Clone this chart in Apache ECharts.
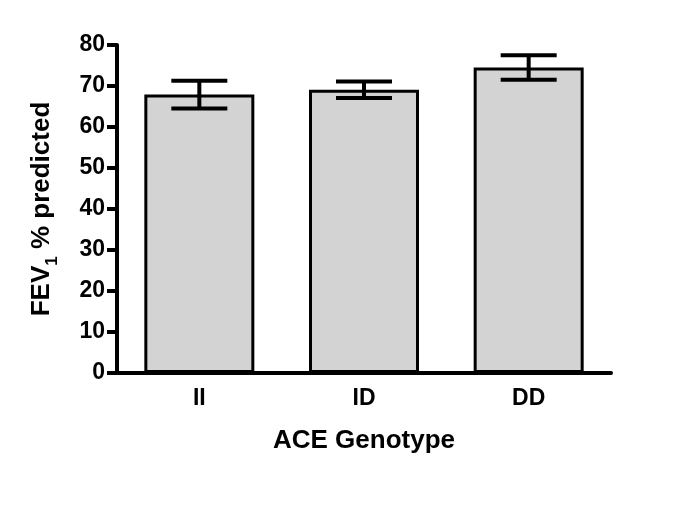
<!DOCTYPE html>
<html><head><meta charset="utf-8">
<script src="https://cdn.jsdelivr.net/npm/echarts@6/dist/echarts.min.js"></script>
<style>html,body{margin:0;padding:0;background:#fff}#c{width:685px;height:513px}</style>
</head><body><div id="c"></div>
<script>
var categories = ['II', 'ID', 'DD'];
var means = [67.9, 69.1, 74.5];
var sems = [3.4, 2.0, 3.0];
var yTicks = [0, 10, 20, 30, 40, 50, 60, 70, 80];

var chart = echarts.init(document.getElementById('c'));
var font = '"Liberation Sans", Arial, sans-serif';
var errData = categories.map(function (c, i) { return [i, means[i] - sems[i], means[i] + sems[i]]; });

chart.setOption({
  animation: false,
  backgroundColor: '#fff',
  grid: { left: 117, right: 74, top: 45, bottom: 140, containLabel: false },
  xAxis: {
    type: 'category', data: categories, boundaryGap: true,
    axisLine: { lineStyle: { color: '#000', width: 4 } },
    axisTick: { alignWithLabel: true, length: 9, lineStyle: { color: '#000', width: 4 } },
    axisLabel: { color: '#000', fontFamily: font, fontWeight: 'bold', fontSize: 23, margin: 14 },
    name: 'ACE Genotype', nameLocation: 'middle', nameGap: 55,
    nameTextStyle: { color: '#000', fontFamily: font, fontWeight: 'bold', fontSize: 26 }
  },
  yAxis: {
    type: 'value', min: 0, max: 80, interval: 10,
    splitLine: { show: false },
    axisLine: { show: true, lineStyle: { color: '#000', width: 4 } },
    axisTick: { show: true, length: 10, lineStyle: { color: '#000', width: 4 } },
    axisLabel: { color: '#000', fontFamily: font, fontWeight: 'bold', fontSize: 23, margin: 12,
      formatter: function (v) { return yTicks.indexOf(v) >= 0 ? String(v) : ''; } },
    name: '{a|FEV}{s|1}{a| % predicted}', nameLocation: 'middle', nameGap: 60, nameRotate: 90,
    nameTextStyle: {
      rich: {
        a: { color: '#000', fontFamily: font, fontWeight: 'bold', fontSize: 26, lineHeight: 30 },
        s: { color: '#000', fontFamily: font, fontWeight: 'bold', fontSize: 17, lineHeight: 30, verticalAlign: 'bottom', padding: [0, 0, -4, 0] }
      }
    }
  },
  series: [
    {
      type: 'bar', data: means, barWidth: 110,
      itemStyle: { color: '#d3d3d3', borderColor: '#000', borderWidth: 3 }
    },
    {
      type: 'custom', data: errData,
      renderItem: function (params, api) {
        var x = api.coord([api.value(0), 0])[0];
        var lo = api.coord([api.value(0), api.value(1)])[1];
        var hi = api.coord([api.value(0), api.value(2)])[1];
        var hw = 28;
        var st = { stroke: '#000', lineWidth: 4 };
        return { type: 'group', children: [
          { type: 'line', shape: { x1: x, y1: lo, x2: x, y2: hi }, style: st },
          { type: 'line', shape: { x1: x - hw, y1: hi, x2: x + hw, y2: hi }, style: st },
          { type: 'line', shape: { x1: x - hw, y1: lo, x2: x + hw, y2: lo }, style: st }
        ] };
      },
      z: 5
    }
  ]
});
</script></body></html>
